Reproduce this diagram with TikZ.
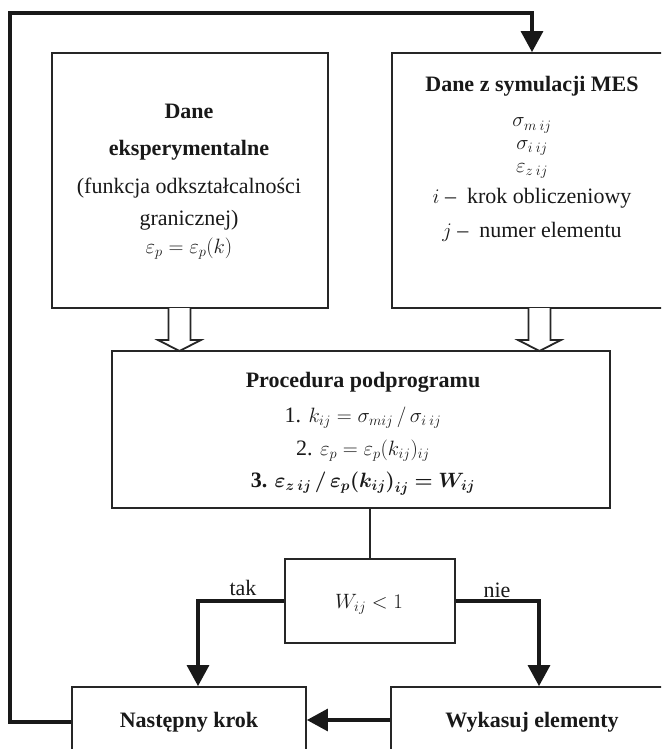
\documentclass[tikz,border=0pt]{standalone}
\usepackage{bm}
\usepackage{fontspec}
\setmainfont{Liberation Serif}
\usetikzlibrary{arrows.meta}
\begin{document}
\begin{tikzpicture}[x=1pt,y=-1pt,
  box/.style={draw=black!85, line width=1.8pt, fill=white, inner sep=0pt, rectangle},
  txt/.style={font=\fontsize{22}{26}\selectfont, inner sep=0pt, anchor=base, text=black!90},
  btxt/.style={font=\fontsize{22}{26}\selectfont\bfseries, inner sep=0pt, anchor=base, text=black!90},
  flow/.style={draw=black!90, line width=3.2pt, line join=miter, -{Triangle[width=22pt,length=21pt]}},
  thinline/.style={draw=black!85, line width=1.8pt},
  hollow/.style={draw=black!85, line width=1.8pt, fill=white, line join=miter}]
\useasboundingbox (0,0) rectangle (661,749);
\clip (0,0) rectangle (661,749);
% boxes
\node[box, minimum width=276pt, minimum height=255pt] (left) at (190,180.5) {};
\node[box, minimum width=308pt, minimum height=255pt] (right) at (546,180.5) {};
\node[box, minimum width=498pt, minimum height=157pt] (mid) at (361,429.5) {};
\node[box, minimum width=170pt, minimum height=84pt] (wbox) at (370,601) {};
\node[box, minimum width=234pt, minimum height=103pt] (nast) at (189,738.5) {};
\node[box, minimum width=309pt, minimum height=103pt] (wyk) at (545.5,738.5) {};
% hollow arrows
\draw[hollow] (168.5,308) -- (168.5,340) -- (158,340) -- (179.5,351) -- (201,340) -- (190.5,340) -- (190.5,308);
\draw[hollow] (528.5,308) -- (528.5,340) -- (518,340) -- (539.5,351) -- (561,340) -- (550.5,340) -- (550.5,308);
% connectors
\draw[thinline] (mid.south -| wbox.north) -- (wbox.north);
\draw[flow] (wbox.west) -| ([xshift=9pt]nast.north);
\draw[flow] (wbox.east) -| ([xshift=-6.5pt]wyk.north);
\draw[flow] ([yshift=18.5pt]wyk.west) -- ([yshift=18.5pt]nast.east);
\coordinate (fb) at (10,13);
\draw[flow] ([yshift=16.5pt]nast.west) -| (fb) -| ([xshift=-14pt]right.north);
% labels
\node[txt] (tak) at (243,595) {tak};
\node[txt] (nie) at (497,597) {nie};
% left box text
\node[btxt] (l1) at (189,119) {Dane};
\node[btxt] (l2) at (189,155) {eksperymentalne};
\node[txt] (l3) at (189,193) {(funkcja odkształcalności};
\node[txt] (l4) at (189,225) {granicznej)};
\node[txt] (l5) at (189,253) {$\varepsilon_p = \varepsilon_p(k)$};
% right box text
\node[btxt] (r1) at (532,92) {Dane z symulacji MES};
\node[txt] (r2) at (532,127) {$\sigma_{m\:ij}$};
\node[txt] (r3) at (532,149) {$\sigma_{i\:ij}$};
\node[txt] (r4) at (532,172) {$\varepsilon_{z\:ij}$};
\node[txt] (r5) at (532,203) {$i$ – \ krok obliczeniowy};
\node[txt] (r6) at (532,237) {$j$ – \ numer elementu};
% middle box text
\node[btxt] (m1) at (363,387) {Procedura podprogramu};
\node[txt] (m2) at (363,422) {1. $k_{ij} = \sigma_{mij}\,/\,\sigma_{i\:ij}$};
\node[txt] (m3) at (363,455) {2. $\varepsilon_p = \varepsilon_p(k_{ij})_{ij}$};
\node[btxt] (m4) at (363,487) {3. $\bm{\varepsilon}_{\bm{z\:ij}}\,\bm{/}\,\bm{\varepsilon}_{\bm{p}}\bm{(}\bm{k}_{\bm{ij}}\bm{)}_{\bm{ij}} \bm{=} \bm{W}_{\bm{ij}}$};
% decision and bottom boxes text
\node[txt] (wt) at (369,608) {$W_{ij} < 1$};
\node[btxt] (nt) at (189,727) {Następny krok};
\node[btxt] (wk) at (532,727) {Wykasuj elementy};
\end{tikzpicture}
\end{document}
